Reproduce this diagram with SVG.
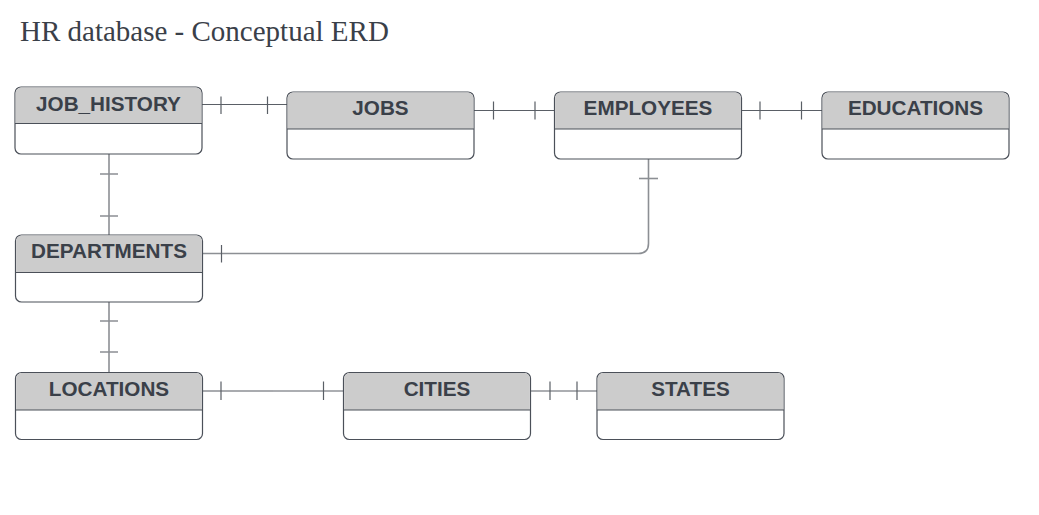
<svg xmlns="http://www.w3.org/2000/svg" width="1039" height="515" viewBox="0 0 1039 515">
<style>
.body{fill:#ffffff;stroke:#4b5059;stroke-width:1.2}
.hdr{fill:#cccccc}
.div{stroke:#4b5059;stroke-width:1.2}
.lbl{font-family:"Liberation Sans",Arial,sans-serif;font-weight:bold;font-size:20.7px;fill:#3a4049;text-anchor:middle}
.title{font-family:"Liberation Serif","Times New Roman",serif;font-size:29px;fill:#3a4049}
.c{fill:none;stroke:#5a5f66;stroke-width:1.2}
.cg{fill:none;stroke:#8c8f94;stroke-width:1.6}
</style>
<rect width="1039" height="515" fill="#ffffff"/>
<text class="title" x="20" y="41">HR database - Conceptual ERD</text>

<g id="connectors">
  <path class="c" d="M202,104.5 H287"/>
  <path class="c" d="M221,96.5 V114 M267.5,96.5 V114"/>
  <path class="c" d="M474,110.5 H554"/>
  <path class="c" d="M493.5,101.5 V119.5 M535,101.5 V119.5"/>
  <path class="c" d="M742,110.5 H822"/>
  <path class="c" d="M760,101.5 V119.5 M801.5,101.5 V119.5"/>
  <path class="cg" d="M109,154 V235"/>
  <path class="cg" d="M100,174 H118 M100,216 H118"/>
  <path class="cg" d="M648.5,159 V243.5 Q648.5,253.5 638.5,253.5 H202"/>
  <path class="cg" d="M639,178.5 H658"/>
  <path class="c" d="M221.5,245 V262.5"/>
  <path class="cg" d="M109,302 V372"/>
  <path class="cg" d="M100,321 H118 M100,352 H118"/>
  <path class="cg" d="M202,391 H273"/>
  <path class="c" d="M273,391 H343"/>
  <path class="c" d="M221,381.5 V400 M323.5,381.5 V400"/>
  <path class="c" d="M531,391 H597"/>
  <path class="c" d="M550,381.5 V400 M577,381.5 V400"/>
</g>

<g id="job_history">
  <rect class="body" x="15" y="87" width="187" height="67" rx="6"/>
  <path class="hdr" d="M21,87.6 H196 A5.4,5.4 0 0 1 201.4,93 V123.5 H15.6 V93 A5.4,5.4 0 0 1 21,87.6 Z"/>
  <path class="div" d="M15,123.5 H202"/>
  <text class="lbl" x="108.5" y="110.5">JOB_HISTORY</text>
</g>

<g id="jobs">
  <rect class="body" x="287" y="92" width="187" height="67" rx="6"/>
  <path class="hdr" d="M293,92.6 H468 A5.4,5.4 0 0 1 473.4,98 V129 H287.6 V98 A5.4,5.4 0 0 1 293,92.6 Z"/>
  <path class="div" d="M287,129 H474"/>
  <text class="lbl" x="380.5" y="115">JOBS</text>
</g>

<g id="employees">
  <rect class="body" x="554.5" y="92" width="187" height="67" rx="6"/>
  <path class="hdr" d="M560.5,92.6 H735.5 A5.4,5.4 0 0 1 740.9,98 V129 H555.1 V98 A5.4,5.4 0 0 1 560.5,92.6 Z"/>
  <path class="div" d="M554.5,129 H741.5"/>
  <text class="lbl" x="648" y="115">EMPLOYEES</text>
</g>

<g id="educations">
  <rect class="body" x="822" y="92" width="187" height="67" rx="6"/>
  <path class="hdr" d="M828,92.6 H1003 A5.4,5.4 0 0 1 1008.4,98 V129 H822.6 V98 A5.4,5.4 0 0 1 828,92.6 Z"/>
  <path class="div" d="M822,129 H1009"/>
  <text class="lbl" x="915.5" y="115">EDUCATIONS</text>
</g>

<g id="departments">
  <rect class="body" x="15.5" y="235" width="187" height="67" rx="6"/>
  <path class="hdr" d="M21.5,235.6 H196.5 A5.4,5.4 0 0 1 201.9,241 V272.5 H16.1 V241 A5.4,5.4 0 0 1 21.5,235.6 Z"/>
  <path class="div" d="M15.5,272.5 H202.5"/>
  <text class="lbl" x="109" y="258">DEPARTMENTS</text>
</g>

<g id="locations">
  <rect class="body" x="15.5" y="372.5" width="187" height="67" rx="6"/>
  <path class="hdr" d="M21.5,373.1 H196.5 A5.4,5.4 0 0 1 201.9,378.5 V410 H16.1 V378.5 A5.4,5.4 0 0 1 21.5,373.1 Z"/>
  <path class="div" d="M15.5,410 H202.5"/>
  <text class="lbl" x="109" y="395.5">LOCATIONS</text>
</g>

<g id="cities">
  <rect class="body" x="343.5" y="372.5" width="187" height="67" rx="6"/>
  <path class="hdr" d="M349.5,373.1 H524.5 A5.4,5.4 0 0 1 529.9,378.5 V410 H344.1 V378.5 A5.4,5.4 0 0 1 349.5,373.1 Z"/>
  <path class="div" d="M343.5,410 H530.5"/>
  <text class="lbl" x="437" y="395.5">CITIES</text>
</g>

<g id="states">
  <rect class="body" x="597" y="372.5" width="187" height="67" rx="6"/>
  <path class="hdr" d="M603,373.1 H778 A5.4,5.4 0 0 1 783.4,378.5 V410 H597.6 V378.5 A5.4,5.4 0 0 1 603,373.1 Z"/>
  <path class="div" d="M597,410 H784"/>
  <text class="lbl" x="690.5" y="395.5">STATES</text>
</g>
</svg>
